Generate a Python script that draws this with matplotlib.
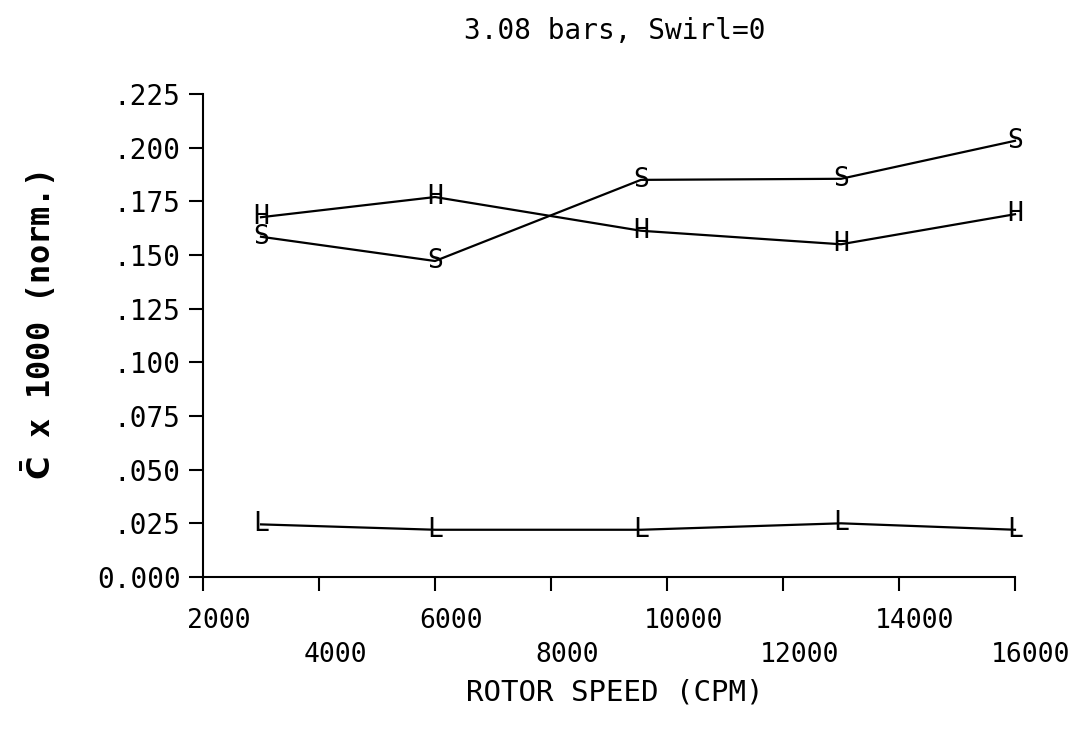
import matplotlib.pyplot as plt
from matplotlib.transforms import ScaledTranslation

rpm = [3000, 6000, 9550, 13000, 16000]
series_s = [0.1585, 0.1472, 0.185, 0.1855, 0.2032]
series_h = [0.1676, 0.177, 0.1613, 0.155, 0.169]
series_l = [0.0245, 0.022, 0.022, 0.025, 0.022]

y_ticks = [0, 0.025, 0.05, 0.075, 0.1, 0.125, 0.15, 0.175, 0.2, 0.225]
y_labels = ["0.000", ".025", ".050", ".075", ".100", ".125", ".150", ".175", ".200", ".225"]
x_upper = [2000, 6000, 10000, 14000]
x_lower = [4000, 8000, 12000, 16000]

mono = "DejaVu Sans Mono"
plt.rcParams["font.family"] = mono

fig = plt.figure(figsize=(10.88, 7.31), dpi=100)
ax = fig.add_axes([0.1866, 0.2107, 0.7463, 0.6607])

for vals, letter in [(series_s, "S"), (series_h, "H"), (series_l, "L")]:
    ax.plot(rpm, vals, color="black", lw=1.6, clip_on=False)
    for x, y in zip(rpm, vals):
        ax.text(x, y, letter, ha="center", va="center", fontsize=19,
                family=mono, clip_on=False)

ax.set_xlim(2000, 16000)
ax.set_ylim(0, 0.225)
ax.spines["top"].set_visible(False)
ax.spines["right"].set_visible(False)
for sp in ["left", "bottom"]:
    ax.spines[sp].set_linewidth(1.5)

ax.set_yticks(y_ticks, labels=y_labels)
ax.set_xticks(x_upper, labels=[str(v) for v in x_upper])
ax.set_xticks(x_lower, labels=[str(v) for v in x_lower], minor=True)
ax.tick_params(axis="y", direction="out", length=10, width=1.5, pad=6, labelsize=20)
ax.tick_params(axis="x", which="both", direction="out", length=10, width=1.5, labelsize=19)
ax.tick_params(axis="x", which="major", pad=12)
ax.tick_params(axis="x", which="minor", pad=37)

shift = ScaledTranslation(0.16, 0, fig.dpi_scale_trans)
for lbl in ax.get_xticklabels(which="both"):
    lbl.set_transform(lbl.get_transform() + shift)

fig.text(0.565, 0.958, "3.08 bars, Swirl=0", ha="center", va="center", fontsize=20)
fig.text(0.565, 0.052, "ROTOR SPEED (CPM)", ha="center", va="center", fontsize=21)
fig.text(0.035, 0.555, r"$\mathbf{\bar{C}}$ x 1000 (norm.)", rotation=90,
         ha="center", va="center", fontsize=23, fontweight="bold")

fig.savefig("out.png", dpi=100)
